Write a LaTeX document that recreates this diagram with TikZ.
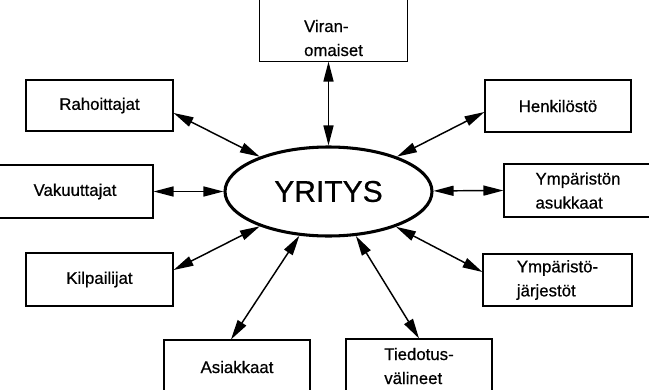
\documentclass[tikz,border=0pt]{standalone}
\usepackage{fontspec}
\setmainfont[FakeBold=0.6]{Liberation Sans}
\usetikzlibrary{arrows.meta,shapes.geometric}
\begin{document}
\begin{tikzpicture}[x=0.75pt,y=-0.75pt,
  box/.style={draw, line width=0.8pt, inner sep=0pt,
    font=\fontsize{12.6}{18}\selectfont, align=left},
  core/.style={ellipse, draw, line width=2.3pt, inner sep=0pt,
    minimum width=155.25pt, minimum height=66.75pt,
    font=\fontsize{22.5}{27}\selectfont},
  link/.style={line width=1.1pt,
    {Triangle[length=15pt,width=7.5pt]}-{Triangle[length=15pt,width=7.5pt]}}]
\useasboundingbox (0,0) rectangle (649,389);
\clip (0,0) rectangle (649,389);
\coordinate (top) at (0,-6);

% central company
\node[core] (yr) at (328.5,191.5) {YRITYS};

% stakeholder boxes
\node[box, draw=none, minimum width=110.25pt, minimum height=34.5pt] (vir) at (333.5,38) {Viran-\\omaiset};
\draw[line width=0.8pt] (vir.south west |- top) -- (vir.south west) -- (vir.south east) -- (vir.south east |- top);

\node[box, minimum width=110.25pt, minimum height=38.25pt] (rah) at (99.5,105.5) {Rahoittajat};
\node[box, minimum width=117pt, minimum height=39.75pt] (vak) at (75,191.5) {Vakuuttajat};
\node[box, minimum width=110.25pt, minimum height=39.75pt] (kil) at (99.5,279.5) {Kilpailijat};
\node[box, minimum width=109.5pt, minimum height=40.5pt] (asi) at (237,367) {Asiakkaat};
\node[box, minimum width=109.5pt, minimum height=40.5pt] (tie) at (419,366) {Tiedotus-\\välineet};
\node[box, minimum width=111.75pt, minimum height=39pt] (yj) at (557.5,280) {Ympäristö-\\järjestöt};
\node[box, minimum width=111pt, minimum height=39.75pt] (asu) at (578,190.5) {Ympäristön\\asukkaat};
\node[box, minimum width=109.5pt, minimum height=39pt] (hen) at (558,106) {Henkilöstö};

% two-way relations
\draw[link] (yr.north |- vir.south) -- (yr.north);
\draw[link] ([yshift=-5.6pt]rah.east) -- (yr);
\draw[link] (vak.east) -- (yr);
\draw[link] ([yshift=7.1pt]kil.east) -- (yr);
\draw[link] ([xshift=-4.5pt]asi.north) -- (yr);
\draw[link] (tie.north) -- (yr);
\draw[link] ([yshift=6pt]yj.west) -- (yr);
\draw[link] (asu.west) -- (yr);
\draw[link] ([yshift=-4.5pt]hen.west) -- (yr);
\end{tikzpicture}
\end{document}
